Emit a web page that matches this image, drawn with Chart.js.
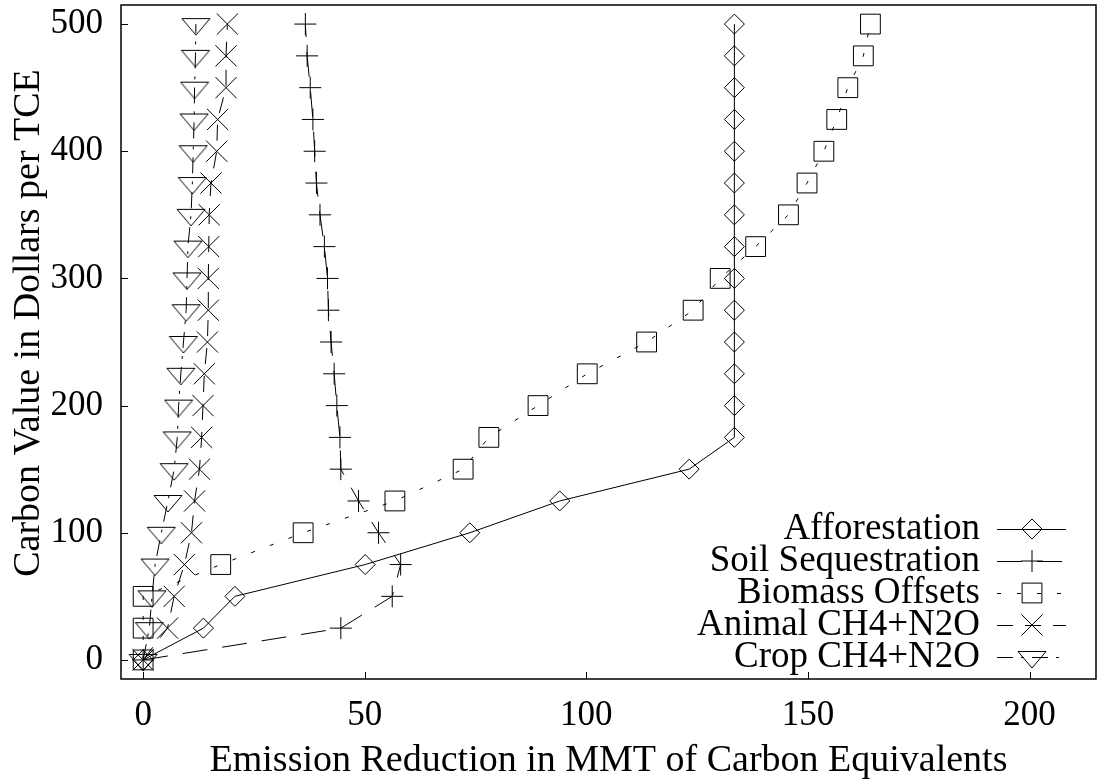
<!DOCTYPE html>
<html>
<head>
<meta charset="utf-8">
<script src="https://cdn.jsdelivr.net/npm/chart.js@4"></script>
<style>
  html, body { margin: 0; padding: 0; background: #fff; }
</style>
</head>
<body>
<canvas id="chart" width="1099" height="784"></canvas>
<script>
// carbon value in dollars per TCE (y) and emission reduction per option (x)
const carbonValue   = [0, 25, 50, 75, 100, 125, 150, 175, 200, 225, 250, 275, 300, 325, 350, 375, 400, 425, 450, 475, 500];
const afforestation = [0, 13.6, 20.7, 50.1, 73.7, 94.0, 123.2, 133.4, 133.4, 133.4, 133.4, 133.4, 133.4, 133.4, 133.4, 133.4, 133.4, 133.4, 133.4, 133.4, 133.4];
const soilSeq       = [0, 44.6, 56.2, 58.1, 53.1, 48.6, 44.6, 44.4, 43.7, 43.1, 42.4, 41.8, 41.6, 40.9, 39.9, 39.1, 38.7, 38.3, 37.7, 37.0, 36.6];
const biomass       = [0, 0, 0, 17.5, 36.1, 56.8, 72.2, 78.0, 89.1, 100.2, 113.6, 124.1, 130.2, 138.2, 145.6, 149.8, 153.6, 156.5, 159.0, 162.5, 164.1];
const animal        = [0, 5.5, 7.0, 9.3, 10.9, 11.6, 12.7, 13.2, 13.5, 13.8, 14.5, 14.7, 14.7, 14.8, 14.9, 15.3, 16.6, 16.8, 18.7, 18.7, 19.0];
const crop          = [0, 1.4, 2.0, 2.7, 4.1, 5.6, 7.0, 7.7, 8.0, 8.5, 9.1, 9.7, 9.9, 10.1, 10.8, 11.1, 11.3, 11.5, 11.6, 11.8, 11.9];

const xTitle = 'Emission Reduction in MMT of Carbon Equivalents';
const yTitle = 'Carbon Value in Dollars per TCE';
const FONT = '"Liberation Serif", "Times New Roman", serif';

// downward triangle marker like gnuplot's
const tri = document.createElement('canvas');
tri.width = 30; tri.height = 24;
(() => {
    const c = tri.getContext('2d');
    c.strokeStyle = '#000';
    c.lineWidth = 1;
    c.beginPath();
    c.moveTo(1, 6.5); c.lineTo(29, 6.5); c.lineTo(15, 23); c.closePath();
    c.stroke();
})();

const pts = arr => arr.map((v, i) => ({ x: v, y: carbonValue[i] }));

const series = [
    { label: 'Afforestation', data: pts(afforestation), dash: [], pointStyle: 'rectRot', radius: 10 },
    { label: 'Soil Sequestration', data: pts(soilSeq), dash: [25, 15], pointStyle: 'cross', radius: 11 },
    { label: 'Biomass Offsets', data: pts(biomass), dash: [4, 16], pointStyle: 'rect', radius: 14 },
    { label: 'Animal CH4+N2O', data: pts(animal), dash: [16, 12], pointStyle: 'crossRot', radius: 15 },
    { label: 'Crop CH4+N2O', data: pts(crop), dash: [16, 8, 3, 8], pointStyle: tri, radius: 12 }
];

// no extra room for half tick labels, the frame is fixed
function fixBox(w, h) {
    return s => {
        if (w) s.width = w;
        if (h) s.height = h;
        s.paddingTop = 0; s.paddingBottom = 0; s.paddingLeft = 0; s.paddingRight = 0;
    };
}

const frame = {
    id: 'frame',
    afterDatasetsDraw(chart) {
        const { ctx, chartArea: a, scales: { x, y } } = chart;
        ctx.save();
        ctx.strokeStyle = '#000';
        ctx.lineWidth = 1.5;
        ctx.strokeRect(a.left, a.top, a.right - a.left, a.bottom - a.top);
        ctx.lineWidth = 1;
        ctx.beginPath();
        y.ticks.forEach(t => {
            const py = Math.round(y.getPixelForValue(t.value)) + 0.5;
            ctx.moveTo(a.left, py); ctx.lineTo(a.left + 7, py);
        });
        x.ticks.forEach(t => {
            const px = Math.round(x.getPixelForValue(t.value)) + 0.5;
            ctx.moveTo(px, a.bottom); ctx.lineTo(px, a.bottom - 7);
        });
        ctx.stroke();
        ctx.restore();
    }
};

const keyBox = {
    id: 'keyBox',
    afterDraw(chart) {
        const ctx = chart.ctx;
        ctx.save();
        ctx.font = '37px ' + FONT;
        ctx.textAlign = 'right';
        ctx.textBaseline = 'middle';
        series.forEach((s, i) => {
            const yy = 529 + i * 32;
            ctx.fillStyle = '#000';
            ctx.fillText(s.label, 980, yy);
            ctx.strokeStyle = '#000';
            ctx.lineWidth = 1;
            ctx.setLineDash(s.dash);
            ctx.beginPath();
            ctx.moveTo(997, yy + 0.5); ctx.lineTo(1066, yy + 0.5);
            ctx.stroke();
            ctx.setLineDash([]);
            ctx.fillStyle = 'rgba(0,0,0,0)';
            Chart.helpers.drawPoint(ctx, { pointStyle: s.pointStyle, radius: s.radius, rotation: 0, borderWidth: 1 }, 1032, yy);
        });
        ctx.restore();
    }
};

new Chart(document.getElementById('chart'), {
    type: 'scatter',
    data: {
        datasets: series.map(s => ({
            label: s.label,
            data: s.data,
            showLine: true,
            borderColor: '#000',
            borderWidth: 1,
            borderDash: s.dash,
            backgroundColor: 'rgba(0,0,0,0)',
            pointStyle: s.pointStyle,
            pointRadius: s.radius,
            pointBorderColor: '#000',
            pointBackgroundColor: 'rgba(0,0,0,0)',
            pointBorderWidth: 1,
            tension: 0
        }))
    },
    options: {
        responsive: false,
        animation: false,
        layout: { autoPadding: false, padding: { top: 5, right: 3, left: 0, bottom: 0 } },
        plugins: { legend: { display: false }, tooltip: { enabled: false } },
        scales: {
            x: {
                type: 'linear', min: -5, max: 215,
                grid: { display: false, drawTicks: false },
                border: { display: false },
                ticks: { stepSize: 50, includeBounds: false, padding: 16, maxRotation: 0, color: '#000', font: { family: FONT, size: 35 } },
                title: { display: true, text: xTitle, color: '#000', font: { family: FONT, size: 38 }, padding: { top: 3, bottom: 0 } },
                afterFit: fixBox(0, 105)
            },
            y: {
                type: 'linear', min: -15, max: 515,
                grid: { display: false, drawTicks: false },
                border: { display: false },
                ticks: { stepSize: 100, includeBounds: false, padding: 18, color: '#000', font: { family: FONT, size: 35 } },
                // leading spaces push the label a little above the middle, as in the original
                title: { display: true, text: '    ' + yTitle, color: '#000', font: { family: FONT, size: 38 }, padding: { top: 6, bottom: 0 } },
                afterFit: fixBox(121, 0)
            }
        }
    },
    plugins: [frame, keyBox]
});
</script>
</body>
</html>
